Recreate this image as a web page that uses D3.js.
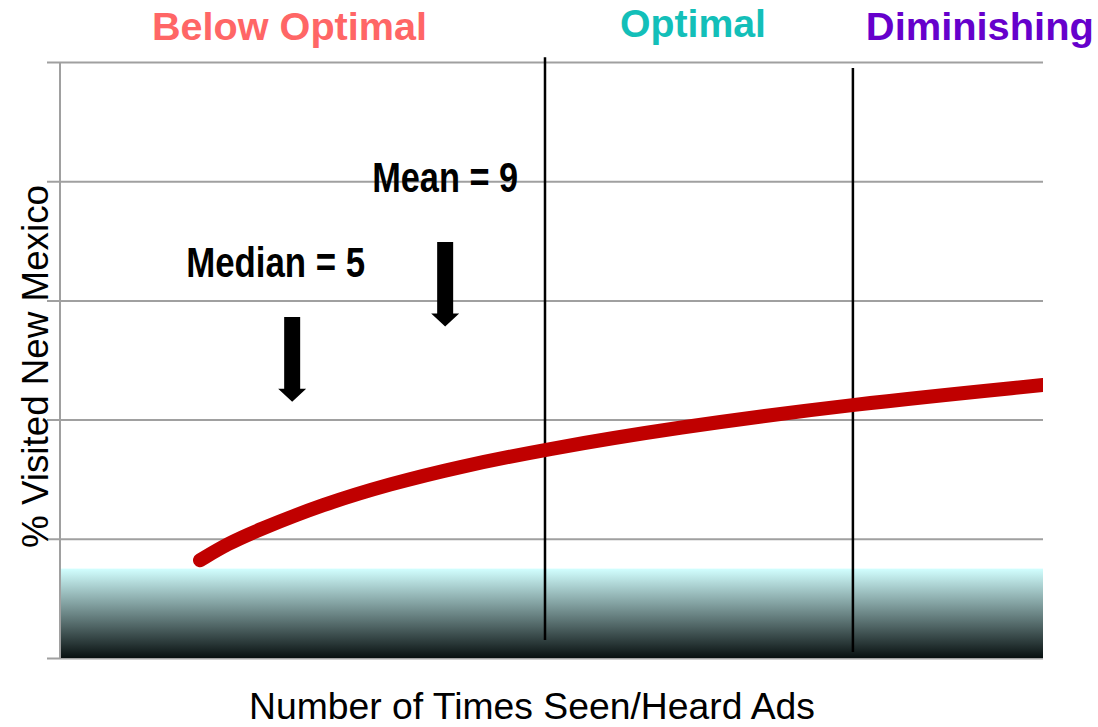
<!DOCTYPE html>
<html>
<head>
<meta charset="utf-8">
<script src="https://cdn.jsdelivr.net/npm/d3@7"></script>
<style>
  body { margin: 0; background: #fff; }
  svg { display: block; }
</style>
</head>
<body>
<script>
// curve of % visited vs number of times ads were seen
const curveX = [2.59, 3.32, 4.08, 5.81, 7.56, 9.31, 11.61, 14.96, 19.66, 24.63];
const curveY = [0.82, 0.96, 1.07, 1.29, 1.46, 1.60, 1.75, 1.93, 2.13, 2.29];

// y gridlines (no labels in the original)
const yTicks = [0, 1, 2, 3, 4, 5];

// zone boundaries and their vertical extents
const boundaryX = [11.61, 19.66];
const boundaryTop = [5.04, 4.95];
const boundaryBottom = [0.15, 0.05];

// zone names
const zoneNames = ["Below Optimal", "Optimal", "Diminishing"];
const zoneLabelX = [4.93, 15.48, 22.98];
const zoneColors = ["#ff6666", "#13bfb9", "#6600cc"];

// median / mean markers
const markerNames = ["Median = 5", "Mean = 9"];
const markerX = [5, 9];
const markerTop = [2.86, 3.49];
const markerTip = [2.15, 2.78];

// shaded baseline band
const bandTop = 0.75;

let width = 1098, height = 727;
let margin = {top: 62, right: 55, bottom: 69, left: 60};

let x = d3.scaleLinear()
          .domain([-1.07, 24.63])
          .range([margin.left, width - margin.right]);

let y = d3.scaleLinear()
          .domain([0, 5])
          .range([height - margin.bottom, margin.top]);

let svg = d3.select("body")
            .append("svg")
            .attr("width", width)
            .attr("height", height);

let defs = svg.append("defs");
let grad = defs.append("linearGradient")
               .attr("id", "band")
               .attr("x1", 0).attr("y1", 0)
               .attr("x2", 0).attr("y2", 1);
grad.append("stop").attr("offset", "0%").attr("stop-color", "#d2ffff");
grad.append("stop").attr("offset", "100%").attr("stop-color", "#081010");

defs.append("clipPath")
    .attr("id", "plotClip")
    .append("rect")
    .attr("x", 0).attr("y", 0)
    .attr("width", x.range()[1]).attr("height", height);

// gridlines + left ticks
let grid = svg.append("g")
              .attr("transform", `translate(${margin.left - 13},0)`)
              .call(d3.axisLeft(y)
                      .tickValues(yTicks)
                      .tickSize(-(x.range()[1] - margin.left + 13))
                      .tickFormat(""));
grid.select(".domain").remove();
grid.selectAll(".tick line")
    .attr("stroke", "#a0a0a0")
    .attr("stroke-width", 2);

// shaded band
svg.append("rect")
   .attr("x", x.range()[0])
   .attr("y", y(bandTop))
   .attr("width", x.range()[1] - x.range()[0])
   .attr("height", y(0) - y(bandTop))
   .attr("fill", "url(#band)");

// left axis line
svg.append("line")
   .attr("x1", x.range()[0]).attr("x2", x.range()[0])
   .attr("y1", y(5)).attr("y2", y(0))
   .attr("stroke", "#a0a0a0")
   .attr("stroke-width", 2);

// zone boundaries
boundaryX.forEach(function(b, i) {
  svg.append("line")
     .attr("x1", x(b)).attr("x2", x(b))
     .attr("y1", y(boundaryTop[i])).attr("y2", y(boundaryBottom[i]))
     .attr("stroke", "#000")
     .attr("stroke-width", 2.5);
});

// response curve
let curveData = curveX.map(function(d, i) { return {x: d, y: curveY[i]}; });
let line = d3.line()
             .x(function(d) { return x(d.x); })
             .y(function(d) { return y(d.y); })
             .curve(d3.curveBasis);

svg.append("path")
   .datum(curveData)
   .attr("d", line)
   .attr("clip-path", "url(#plotClip)")
   .style("fill", "none")
   .style("stroke", "#c00000")
   .style("stroke-width", 14)
   .style("stroke-linecap", "round");

// arrows
markerX.forEach(function(m, i) {
  let cx = x(m), top = y(markerTop[i]), tip = y(markerTip[i]);
  let sw = 8, hw = 14, hl = 13;
  let p = d3.path();
  p.moveTo(cx - sw, top);
  p.lineTo(cx + sw, top);
  p.lineTo(cx + sw, tip - hl);
  p.lineTo(cx + hw, tip - hl);
  p.lineTo(cx, tip);
  p.lineTo(cx - hw, tip - hl);
  p.lineTo(cx - sw, tip - hl);
  p.closePath();
  svg.append("path").attr("d", p.toString()).attr("fill", "#000");
});

// marker labels
let markerDx = [-16.5, 0];
let markerDy = [-40, -50];
let markerLen = [179, 146];
markerNames.forEach(function(t, i) {
  svg.append("text")
     .attr("x", x(markerX[i]) + markerDx[i])
     .attr("y", y(markerTop[i]) + markerDy[i])
     .attr("text-anchor", "middle")
     .attr("font-family", "'Liberation Sans Narrow', 'Arial Narrow', 'Liberation Sans', Arial, sans-serif")
     .attr("font-weight", "bold")
     .attr("font-size", 42)
     .attr("textLength", markerLen[i])
     .attr("lengthAdjust", "spacingAndGlyphs")
     .text(t);
});

// zone labels
let zoneBase = [40, 37, 40];
let zoneLen = [275, 146, 228];
zoneNames.forEach(function(t, i) {
  svg.append("text")
     .attr("x", x(zoneLabelX[i]))
     .attr("y", zoneBase[i])
     .attr("text-anchor", "middle")
     .attr("font-family", "'Liberation Sans', Arial, sans-serif")
     .attr("font-weight", "bold")
     .attr("font-size", 38)
     .attr("fill", zoneColors[i])
     .attr("textLength", zoneLen[i])
     .attr("lengthAdjust", "spacingAndGlyphs")
     .text(t);
});

// axis titles
svg.append("text")
   .attr("x", 532)
   .attr("y", 719)
   .attr("text-anchor", "middle")
   .attr("font-family", "'Liberation Sans', Arial, sans-serif")
   .attr("font-size", 36)
   .attr("textLength", 566)
   .attr("lengthAdjust", "spacingAndGlyphs")
   .text("Number of Times Seen/Heard Ads");

svg.append("text")
   .attr("transform", "translate(48,366.5) rotate(-90)")
   .attr("text-anchor", "middle")
   .attr("font-family", "'Liberation Sans', Arial, sans-serif")
   .attr("font-size", 36)
   .attr("textLength", 363)
   .attr("lengthAdjust", "spacingAndGlyphs")
   .text("% Visited New Mexico");
</script>
</body>
</html>
